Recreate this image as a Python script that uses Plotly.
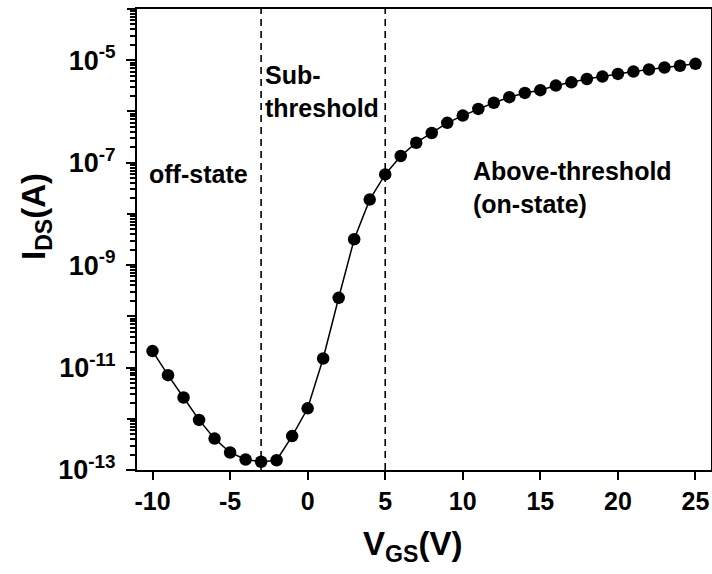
import plotly.graph_objects as go

# Data
vgs = [-10, -9, -8, -7, -6, -5, -4, -3, -2, -1, 0, 1, 2, 3, 4, 5, 6, 7, 8, 9,
       10, 11, 12, 13, 14, 15, 16, 17, 18, 19, 20, 21, 22, 23, 24, 25]
ids = [2.1e-11, 7.1e-12, 2.6e-12, 9.5e-13, 4.1e-13, 2.2e-13, 1.6e-13, 1.45e-13,
       1.55e-13, 4.6e-13, 1.6e-12, 1.5e-11, 2.3e-10, 3.2e-9, 1.9e-8, 5.9e-8,
       1.35e-7, 2.45e-7, 3.8e-7, 6.0e-7, 8.3e-7, 1.12e-6, 1.48e-6, 1.9e-6,
       2.3e-6, 2.6e-6, 3.2e-6, 3.7e-6, 4.3e-6, 4.8e-6, 5.4e-6, 6.0e-6, 6.6e-6,
       7.2e-6, 7.8e-6, 8.5e-6]

x_tickvals = [-10, -5, 0, 5, 10, 15, 20, 25]
x_ticktext = ["-10", "-5", "0", "5", "10", "15", "20", "25"]
y_labeled = [-13, -11, -9, -7, -5]
y_unlabeled = [-12, -10, -8, -6, -4]
region_bounds = [-3, 5]

FONT = "Liberation Sans, Arial, sans-serif"

y_tickvals = [10.0 ** e for e in y_labeled]
y_ticktext = [f"10<sup>{e}</sup>" for e in y_labeled]
y2_tickvals = [10.0 ** e for e in y_unlabeled]
y_minor = [m * 10.0 ** e for e in range(-13, -4) for m in range(2, 10)]

fig = go.Figure()
# invisible copy on the overlay axis (carries the unlabeled decade ticks)
fig.add_trace(go.Scatter(x=vgs, y=ids, yaxis="y2", mode="markers",
                         marker=dict(opacity=0), hoverinfo="skip", showlegend=False))
fig.add_trace(go.Scatter(
    x=vgs, y=ids, mode="lines+markers",
    line=dict(color="black", width=1.5),
    marker=dict(color="black", size=12.5, symbol="circle"),
    showlegend=False, cliponaxis=False,
))

for xb in region_bounds:
    fig.add_shape(type="line", x0=xb, x1=xb, xref="x", yref="paper", y0=0, y1=1,
                  line=dict(color="black", width=1.6, dash="7px,5px"))

ann_font = dict(family=FONT, size=25, color="black", weight="bold")
fig.add_annotation(x=-10.35, y=-7.23, text="off-state", showarrow=False,
                   xanchor="left", yanchor="middle", align="left", font=ann_font)
fig.add_annotation(x=-2.9, y=-5.61, text="Sub-<br>threshold", showarrow=False,
                   xanchor="left", yanchor="middle", align="left", font=ann_font)
fig.add_annotation(x=10.5, y=-7.48, text="Above-threshold<br>(on-state)", showarrow=False,
                   xanchor="left", yanchor="middle", align="left", font=ann_font)

title_font = dict(family=FONT, size=33, color="black", weight="bold")
fig.add_annotation(xref="paper", yref="paper", x=0.48, y=-0.165,
                   text="V<sub>GS</sub>(V)", showarrow=False,
                   xanchor="center", yanchor="middle", font=title_font)
fig.add_annotation(xref="paper", yref="paper", x=-0.175, y=0.55,
                   text="I<sub>DS</sub>(A)", showarrow=False, textangle=-90,
                   xanchor="center", yanchor="middle", font=title_font)

fig.update_layout(
    width=712, height=574,
    margin=dict(l=137, r=1, t=9, b=104),
    paper_bgcolor="white", plot_bgcolor="white",
    font=dict(family=FONT, color="black"),
    xaxis=dict(
        range=[-11, 26], tickmode="array", tickvals=x_tickvals, ticktext=x_ticktext,
        ticks="outside", ticklen=8, tickwidth=2, tickcolor="black",
        showline=True, linecolor="black", linewidth=2, mirror=True,
        showgrid=False, zeroline=False, automargin=False, ticklabelstandoff=0,
        tickfont=dict(family=FONT, size=25, weight="bold"),
    ),
    yaxis=dict(
        type="log", range=[-13, -4], tickmode="array",
        tickvals=y_tickvals, ticktext=y_ticktext,
        ticks="outside", ticklen=9, tickwidth=2, tickcolor="black",
        minor=dict(tickmode="array", tickvals=y_minor, ticks="outside",
                   ticklen=5, tickwidth=1.5, tickcolor="black", showgrid=False),
        showline=True, linecolor="black", linewidth=2, mirror=True,
        showgrid=False, zeroline=False, ticklabelstandoff=5, automargin=False,
        tickfont=dict(family=FONT, size=27, weight="bold"),
    ),
    yaxis2=dict(
        type="log", range=[-13, -4], overlaying="y", side="left",
        tickmode="array", tickvals=y2_tickvals, showticklabels=False,
        ticks="outside", ticklen=9, tickwidth=2, tickcolor="black",
        showline=False, showgrid=False, zeroline=False, automargin=False,
    ),
)

fig.write_html(
    "out.html",
    config={"displayModeBar": False},
    post_script="document.body.style.margin='0';document.body.style.overflow='hidden';",
)
